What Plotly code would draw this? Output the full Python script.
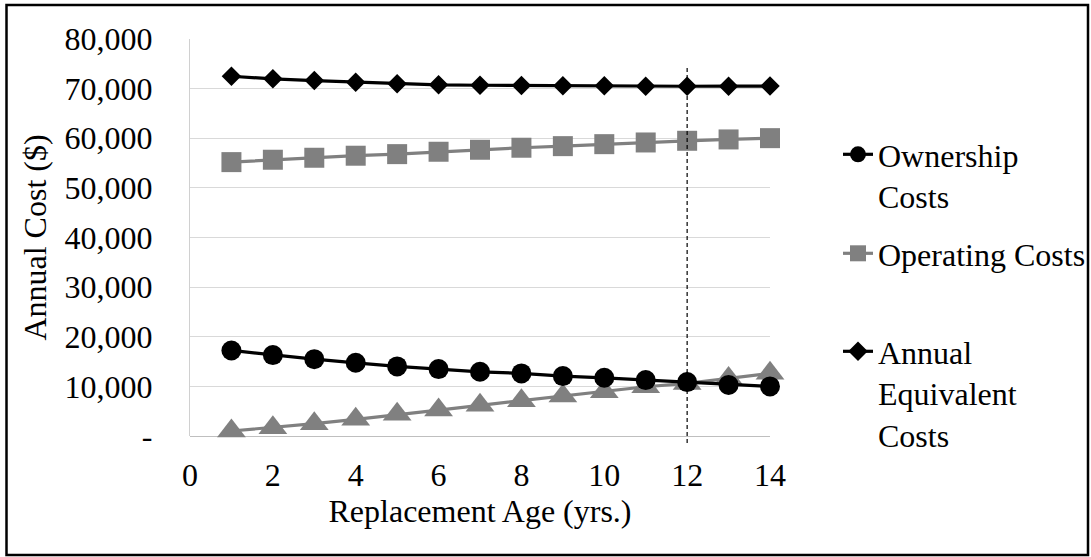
import plotly.graph_objects as go

# Replacement age (years)
age = [1, 2, 3, 4, 5, 6, 7, 8, 9, 10, 11, 12, 13, 14]

# Annual costs in dollars
ownership_costs = [17240, 16300, 15490, 14750, 14020, 13480, 12940,
                   12610, 12070, 11730, 11270, 10860, 10300, 10000]
operating_costs = [55190, 55670, 56070, 56480, 56800, 57280, 57680,
                   58090, 58410, 58810, 59150, 59490, 59760, 60020]
annual_equivalent_costs = [72490, 71970, 71630, 71290, 70960, 70760, 70680,
                           70620, 70560, 70560, 70480, 70480, 70490, 70520]
operating_cost_growth = [1010, 1670, 2480, 3360, 4370, 5230, 6180,
                         7100, 8050, 8910, 9920, 10600, 11610, 12620]

# Axis ticks
x_tickvals = [0, 2, 4, 6, 8, 10, 12, 14]
y_tickvals = [0, 10000, 20000, 30000, 40000, 50000, 60000, 70000, 80000]
y_ticktext = ["-", "10,000", "20,000", "30,000", "40,000",
              "50,000", "60,000", "70,000", "80,000"]

optimal_age = 12

# Page geometry (pixels)
W, H = 1091, 557
ML, MR, MT, MB = 190, 321, 39, 121
PW, PH = W - ML - MR, H - MT - MB

FONT = "Liberation Serif"
FS = 32
BLACK = "#000000"
GREY = "#808080"


def px_x(px):
    return (px - ML) / PW


def px_y(py):
    return (H - MB - py) / PH


fig = go.Figure()

fig.add_trace(go.Scatter(
    x=age, y=operating_cost_growth, mode="lines+markers",
    name="Operating Cost Growth", showlegend=False,
    line=dict(color=GREY, width=3.2),
    marker=dict(symbol="triangle-up", size=25, color=GREY),
    cliponaxis=False,
))
fig.add_trace(go.Scatter(
    x=age, y=ownership_costs, mode="lines+markers",
    name="Ownership<br>Costs", legend="legend",
    line=dict(color=BLACK, width=3.2),
    marker=dict(symbol="circle", size=20, color=BLACK),
    cliponaxis=False,
))
fig.add_trace(go.Scatter(
    x=age, y=operating_costs, mode="lines+markers",
    name="Operating Costs", legend="legend2",
    line=dict(color=GREY, width=3.2),
    marker=dict(symbol="square", size=20, color=GREY),
    cliponaxis=False,
))
fig.add_trace(go.Scatter(
    x=age, y=annual_equivalent_costs, mode="lines+markers",
    name="Annual<br>Equivalent<br>Costs", legend="legend3",
    line=dict(color=BLACK, width=3.2),
    marker=dict(symbol="diamond", size=15, color=BLACK),
    cliponaxis=False,
))


def legend_box(top_px):
    # legends are placed in page coordinates so they do not push the margins
    return dict(
        xref="container", yref="container",
        x=838 / W, y=1 - top_px / H, xanchor="left", yanchor="top",
        font=dict(family=FONT, size=FS, color=BLACK),
        bgcolor="rgba(0,0,0,0)", borderwidth=0, valign="top",
        itemsizing="trace",
    )


# Replacement-age marker line and chart frame
shapes = [
    dict(type="line", xref="x", yref="paper",
         x0=optimal_age, x1=optimal_age, y0=px_y(443), y1=px_y(68),
         line=dict(color=BLACK, width=1.2, dash="4px,3px")),
    dict(type="rect", xref="paper", yref="paper",
         x0=px_x(6.5), x1=px_x(1088), y0=px_y(555), y1=px_y(5),
         line=dict(color=BLACK, width=2.5), fillcolor="rgba(0,0,0,0)"),
]

fig.update_layout(
    width=W, height=H, autosize=False,
    margin=dict(l=ML, r=MR, t=MT, b=MB, pad=0, autoexpand=False),
    paper_bgcolor="white", plot_bgcolor="white",
    font=dict(family=FONT, size=FS, color=BLACK),
    legend=legend_box(127),
    legend2=legend_box(226),
    legend3=legend_box(324),
    shapes=shapes,
    xaxis=dict(
        range=[0, 14], tickvals=x_tickvals, showgrid=False, zeroline=False,
        showline=False, ticks="", ticklabelstandoff=17, automargin=False,
        tickfont=dict(family=FONT, size=FS, color=BLACK),
        title=dict(text="Replacement Age (yrs.)", standoff=1,
                   font=dict(family=FONT, size=FS, color=BLACK)),
    ),
    yaxis=dict(
        range=[0, 80000], tickvals=y_tickvals, ticktext=y_ticktext,
        showgrid=True, gridcolor="#d9d9d9", gridwidth=1,
        zeroline=True, zerolinecolor="#bfbfbf", zerolinewidth=1.3,
        showline=True, linecolor="#d0d0d0", linewidth=1.3,
        ticks="", ticklabelstandoff=30, automargin=False,
        tickfont=dict(family=FONT, size=FS, color=BLACK),
        title=dict(text="Annual Cost ($)", standoff=8,
                   font=dict(family=FONT, size=FS, color=BLACK)),
    ),
)

fig.write_html("out.html")
